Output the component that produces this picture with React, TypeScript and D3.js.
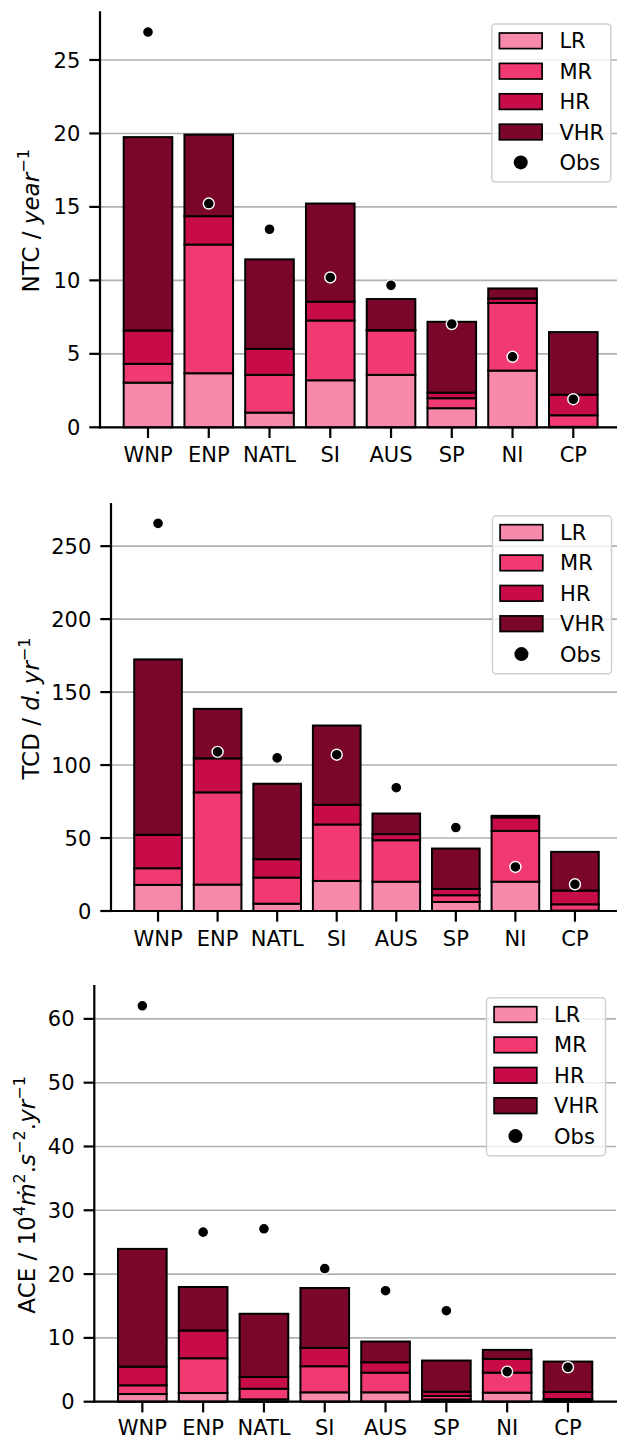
import React from 'react';
import * as d3 from 'd3';

const CATEGORIES = ['WNP', 'ENP', 'NATL', 'SI', 'AUS', 'SP', 'NI', 'CP'];
const SERIES = ['LR', 'MR', 'HR', 'VHR'];
const COLORS = ['#f78aaa', '#f23a72', '#c80c48', '#7a0629'];

// NTC (year^-1) — segment heights per category
const NTC_LR = [3.04, 3.68, 1.0, 3.2, 3.57, 1.3, 3.86, 0.03];
const NTC_MR = [1.28, 8.76, 2.57, 4.07, 3.02, 0.68, 4.6, 0.79];
const NTC_HR = [2.27, 1.93, 1.77, 1.28, 0.03, 0.38, 0.31, 1.4];
const NTC_VHR = [13.16, 5.55, 6.09, 6.68, 2.11, 4.82, 0.68, 4.26];
const NTC_OBS = [26.9, 15.23, 13.48, 10.2, 9.66, 7.03, 4.8, 1.91];

// TCD (d.yr^-1)
const TCD_LR = [17.9, 18.1, 5.0, 20.6, 20.1, 6.2, 20.1, 0.3];
const TCD_MR = [11.4, 63.2, 17.9, 38.7, 28.4, 4.6, 34.8, 4.3];
const TCD_HR = [22.9, 23.3, 12.6, 13.5, 4.2, 4.3, 9.2, 9.4];
const TCD_VHR = [120.2, 33.9, 51.7, 54.3, 14.1, 27.7, 1.1, 26.5];
const TCD_OBS = [265.6, 109.0, 104.9, 107.1, 84.5, 57.2, 30.2, 18.3];

// ACE (10^4 m^2.s^-2.yr^-1)
const ACE_LR = [1.2, 1.36, 0.37, 1.47, 1.47, 0.35, 1.42, 0.1];
const ACE_MR = [1.37, 5.45, 1.67, 4.09, 3.09, 0.55, 3.14, 0.32];
const ACE_HR = [2.93, 4.35, 1.84, 2.88, 1.62, 0.67, 2.15, 1.1];
const ACE_VHR = [18.45, 6.82, 9.9, 9.38, 3.25, 4.88, 1.41, 4.77];
const ACE_OBS = [62.05, 26.57, 27.1, 20.86, 17.4, 14.26, 4.72, 5.4];

type Part = { t: string; i?: boolean; sup?: boolean };

const PANELS = [
  {
    key: 'ntc',
    series: [NTC_LR, NTC_MR, NTC_HR, NTC_VHR],
    obs: NTC_OBS,
    layout: { left: 100, top: 12.3, bottom: 427.3, right: 621.3, labelX: 38.5, xlabOff: 35 },
    label: [{ t: 'NTC / ' }, { t: 'year', i: true }, { t: '\u22121', sup: true }] as Part[],
  },
  {
    key: 'tcd',
    series: [TCD_LR, TCD_MR, TCD_HR, TCD_VHR],
    obs: TCD_OBS,
    layout: { left: 111, top: 504, bottom: 911, right: 622, labelX: 39, xlabOff: 35 },
    label: [
      { t: 'TCD / ' },
      { t: 'd', i: true },
      { t: '.\u2009' },
      { t: 'yr', i: true },
      { t: '\u22121', sup: true },
    ] as Part[],
  },
  {
    key: 'ace',
    series: [ACE_LR, ACE_MR, ACE_HR, ACE_VHR],
    obs: ACE_OBS,
    layout: { left: 94.3, top: 986, bottom: 1401.7, right: 616, labelX: 34.5, xlabOff: 32.8 },
    label: [
      { t: 'ACE / 10' },
      { t: '4', sup: true },
      { t: '\u1e41', i: true },
      { t: '2', sup: true },
      { t: '.' },
      { t: 's', i: true },
      { t: '\u22122', sup: true },
      { t: '.' },
      { t: 'yr', i: true },
      { t: '\u22121', sup: true },
    ] as Part[],
  },
];

const FONT = 'DejaVu Sans, Verdana, sans-serif';
const FS = 21;
const LFS = 23;
const SUP_RAISE = 9.5;

function YLabel({ x, y, parts }: { x: number; y: number; parts: Part[] }) {
  let raised = false;
  return (
    <text
      transform={`translate(${x},${y}) rotate(-90)`}
      textAnchor="middle"
      fontFamily={FONT}
      fontSize={LFS}
      fill="#000"
    >
      {parts.map((p, k) => {
        let dy = 0;
        if (p.sup && !raised) {
          dy = -SUP_RAISE;
          raised = true;
        } else if (!p.sup && raised) {
          dy = SUP_RAISE;
          raised = false;
        }
        return (
          <tspan
            key={k}
            dy={dy}
            fontStyle={p.i ? 'italic' : 'normal'}
            fontSize={p.sup ? LFS * 0.7 : LFS}
          >
            {p.t}
          </tspan>
        );
      })}
    </text>
  );
}

function Panel({ panel }: { panel: (typeof PANELS)[number] }) {
  const { left, top, bottom, right, labelX, xlabOff } = panel.layout;
  const rows = CATEGORIES.map((c, i) => {
    const r: any = { cat: c };
    SERIES.forEach((s, j) => (r[s] = panel.series[j][i]));
    return r;
  });
  const stacked = d3.stack<any>().keys(SERIES)(rows);
  const totals = CATEGORIES.map((_, i) => d3.sum(panel.series, (a) => a[i]));
  const ymax = (d3.max([...totals, ...panel.obs]) as number) * 1.05;

  const x = d3
    .scaleBand<string>()
    .domain(CATEGORIES)
    .range([left, right])
    .paddingInner(0.2)
    .paddingOuter(0.39);
  const y = d3.scaleLinear().domain([0, ymax]).range([bottom, top]);
  const ticks = y.ticks(6);
  const bw = x.bandwidth();
  const tickLen = 10.7;

  const legW = 119;
  const legH = 158;
  const legLeft = right - 10.5 - legW;
  const legTop = top + 11.7;
  const rowPitch = 30.4;
  const row0 = legTop + 16.8;

  return (
    <g>
      {/* grid */}
      {ticks.map((t) => (
        <line
          key={'g' + t}
          x1={left}
          x2={right}
          y1={y(t)}
          y2={y(t)}
          stroke="#b0b0b0"
          strokeWidth={1.6}
        />
      ))}
      {/* bars */}
      {stacked.map((layer, j) => (
        <g key={layer.key} fill={COLORS[j]}>
          {layer.map((d: any) => (
            <rect
              key={d.data.cat}
              x={x(d.data.cat)}
              width={bw}
              y={y(d[1])}
              height={Math.max(0, y(d[0]) - y(d[1]))}
              stroke="#000"
              strokeWidth={2}
            />
          ))}
        </g>
      ))}
      {/* observations */}
      {panel.obs.map((v, i) => (
        <circle
          key={'o' + i}
          cx={(x(CATEGORIES[i]) as number) + bw / 2}
          cy={y(v)}
          r={5.5}
          fill="#000"
          stroke="#fff"
          strokeWidth={1.4}
        />
      ))}
      {/* spines */}
      <line x1={left} x2={left} y1={top} y2={bottom} stroke="#000" strokeWidth={2.2} strokeLinecap="square" />
      <line x1={left} x2={right} y1={bottom} y2={bottom} stroke="#000" strokeWidth={2.2} strokeLinecap="square" />
      {/* y ticks */}
      {ticks.map((t) => (
        <g key={'yt' + t}>
          <line x1={left - tickLen} x2={left} y1={y(t)} y2={y(t)} stroke="#000" strokeWidth={2.2} />
          <text
            x={left - tickLen - 9}
            y={y(t)}
            dy="0.36em"
            textAnchor="end"
            fontFamily={FONT}
            fontSize={FS}
          >
            {t}
          </text>
        </g>
      ))}
      {/* x ticks */}
      {CATEGORIES.map((c) => {
        const cx = (x(c) as number) + bw / 2;
        return (
          <g key={'xt' + c}>
            <line x1={cx} x2={cx} y1={bottom} y2={bottom + tickLen} stroke="#000" strokeWidth={2.2} />
            <text x={cx} y={bottom + xlabOff} textAnchor="middle" fontFamily={FONT} fontSize={FS}>
              {c}
            </text>
          </g>
        );
      })}
      {/* y label */}
      <YLabel x={labelX} y={(top + bottom) / 2 + 1} parts={panel.label} />
      {/* legend */}
      <rect
        x={legLeft}
        y={legTop}
        width={legW}
        height={legH}
        rx={3.5}
        fill="#fff"
        fillOpacity={0.8}
        stroke="#d0d0d0"
        strokeWidth={1.5}
      />
      {SERIES.map((s, j) => (
        <g key={'l' + s}>
          <rect
            x={legLeft + 7.6}
            y={row0 + j * rowPitch - 7.8}
            width={42.7}
            height={15.6}
            fill={COLORS[j]}
            stroke="#000"
            strokeWidth={1.7}
          />
          <text
            x={legLeft + 67.6}
            y={row0 + j * rowPitch}
            dy="0.36em"
            fontFamily={FONT}
            fontSize={FS}
          >
            {s}
          </text>
        </g>
      ))}
      <circle cx={legLeft + 7.6 + 21.35} cy={row0 + 4 * rowPitch} r={7} fill="#000" />
      <text
        x={legLeft + 67.6}
        y={row0 + 4 * rowPitch}
        dy="0.36em"
        fontFamily={FONT}
        fontSize={FS}
      >
        Obs
      </text>
    </g>
  );
}

export default function App() {
  return (
    <svg
      width={617}
      height={1440}
      viewBox="0 0 617 1440"
      style={{ position: 'absolute', left: 0, top: 0, background: '#fff' }}
    >
      <rect x={0} y={0} width={617} height={1440} fill="#fff" />
      {PANELS.map((p) => (
        <Panel key={p.key} panel={p} />
      ))}
    </svg>
  );
}
